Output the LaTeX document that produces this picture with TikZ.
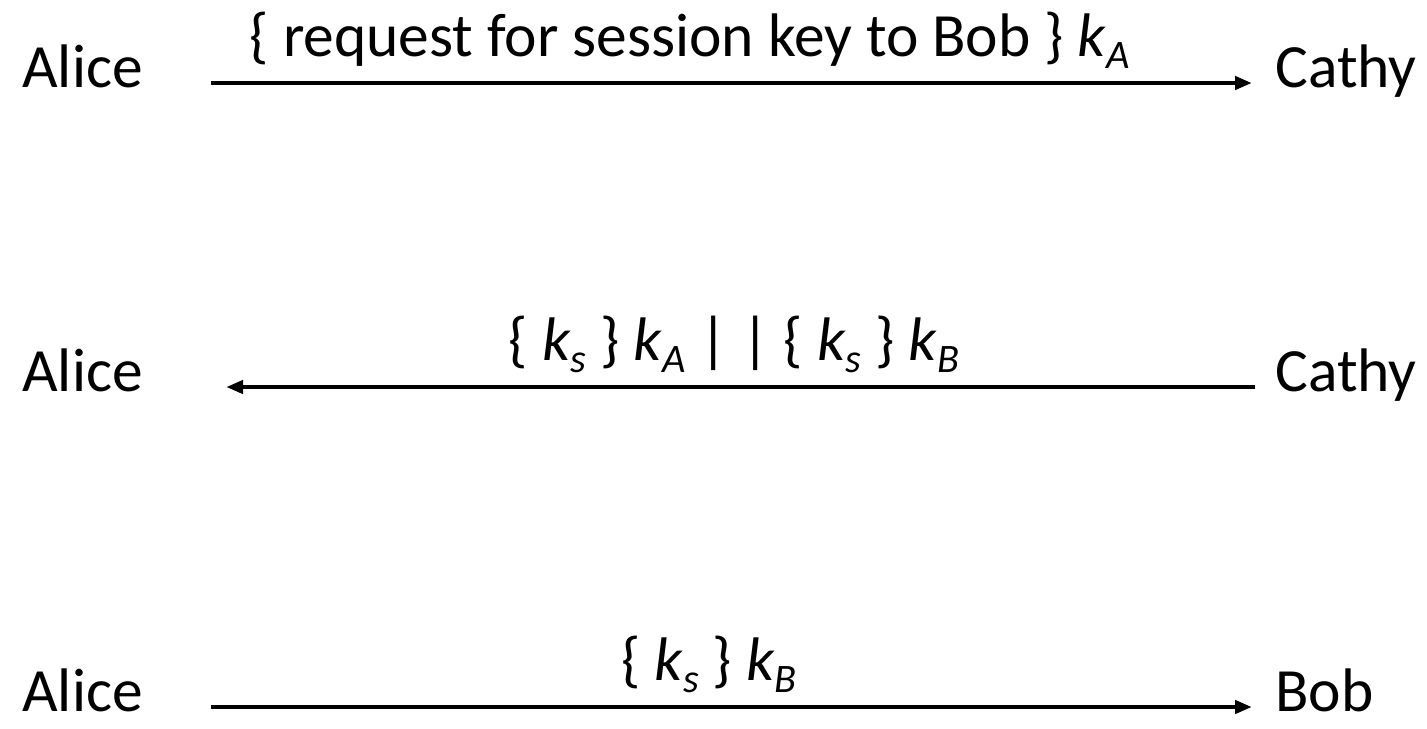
\documentclass[tikz,border=0pt]{standalone}
\usepackage{fontspec}
\setmainfont{Carlito}
\usetikzlibrary{arrows.meta}

\newcommand{\subkey}[2]{\textit{#1}\raisebox{-0.2em}{\fontsize{23}{23}\selectfont\textit{#2}}}

\begin{document}
\begin{tikzpicture}[x=0.02cm, y=-0.02cm,
    party/.style={anchor=mid west, inner sep=0, font=\fontsize{35}{42}\selectfont},
    msglabel/.style={anchor=base, inner sep=0, yshift=0.54cm, font=\fontsize{35}{42}\selectfont},
    msg/.style={line width=2.5pt, -{Triangle[length=0.34cm, width=0.26cm]}}]
    \useasboundingbox (0,0) rectangle (1427,728);

    % Step 1
    \node[party] (alice1) at (22,83) {Alice};
    \node[party] (cathy1) at (1275,83) {Cathy};

    % Step 2
    \node[party] (alice2) at (22,387) {Alice};
    \node[party] (cathy2) at (1275,387) {Cathy};

    % Step 3
    \node[party] (alice3) at (22,707) {Alice};
    \node[party] (bob3) at (1275,707) {Bob};

    % Draw Arrows
    \draw[msg, shorten <=1.36cm, shorten >=0.46cm] (alice1.mid east) --
      node[msglabel, pos=0.483] (req) {\{ request for session key to Bob \} \subkey{k}{A}} (cathy1.mid west);
    \draw[msg, shorten <=0.4cm, shorten >=1.66cm] (cathy2.mid west) --
      node[msglabel, pos=0.478] (reply) {\{ \subkey{k}{s} \} \subkey{k}{A} | | \{ \subkey{k}{s} \} \subkey{k}{B}} (alice2.mid east);
    \draw[msg, shorten <=1.36cm, shorten >=0.46cm] (alice3.mid east) --
      node[msglabel, pos=0.5] (ticket) {\{ \subkey{k}{s} \} \subkey{k}{B}} (bob3.mid west);
\end{tikzpicture}
\end{document}
